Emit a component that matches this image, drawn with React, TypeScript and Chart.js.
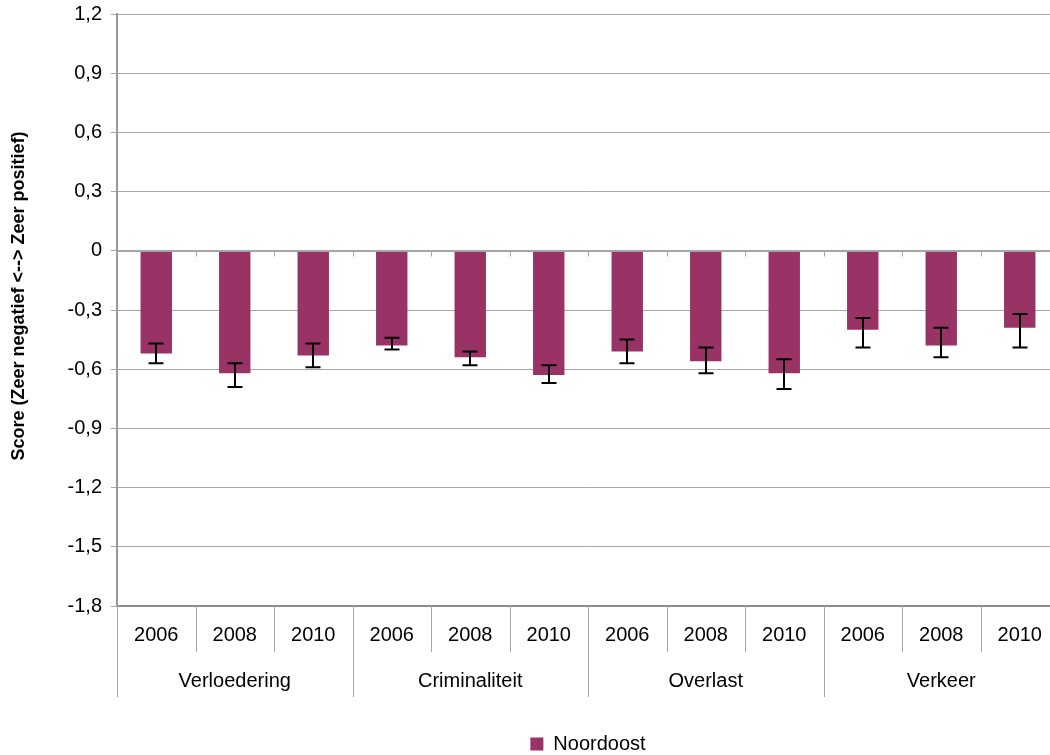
import React, { useEffect, useRef } from "react";
import { Chart, registerables } from "chart.js";

Chart.register(...registerables);

const groups = ["Verloedering", "Criminaliteit", "Overlast", "Verkeer"];
const years = ["2006", "2008", "2010"];
const seriesName = "Noordoost";
const values = [-0.52, -0.62, -0.53, -0.48, -0.54, -0.63, -0.51, -0.56, -0.62, -0.40, -0.48, -0.39];
const errorHigh = [-0.47, -0.57, -0.47, -0.44, -0.51, -0.58, -0.45, -0.49, -0.55, -0.34, -0.39, -0.32];
const errorLow = [-0.57, -0.69, -0.59, -0.50, -0.58, -0.67, -0.57, -0.62, -0.70, -0.49, -0.54, -0.49];
const yTitle = "Score (Zeer negatief <--> Zeer positief)";
const yMin = -1.8;
const yMax = 1.2;
const yStep = 0.3;

const FONT = "'Liberation Sans', Arial, sans-serif";
const GRID = "#a6a6a6";

const labels: string[] = [];
groups.forEach(() => years.forEach((y) => labels.push(y)));

const extrasPlugin = {
  id: "extras",
  afterDatasetsDraw(chart: any) {
    const { ctx, chartArea } = chart;
    const meta = chart.getDatasetMeta(0);
    const ys = chart.scales.y;
    ctx.save();
    // zero axis line drawn over the bars
    const y0 = Math.round(ys.getPixelForValue(0)) + 0.5;
    ctx.strokeStyle = GRID;
    ctx.lineWidth = 1;
    ctx.beginPath();
    ctx.moveTo(chartArea.left, y0);
    ctx.lineTo(chartArea.right, y0);
    ctx.stroke();
    ctx.strokeStyle = "#000";
    ctx.lineWidth = 2;
    meta.data.forEach((bar: any, i: number) => {
      const x = Math.round(bar.x);
      const y1 = ys.getPixelForValue(errorHigh[i]);
      const y2 = ys.getPixelForValue(errorLow[i]);
      ctx.beginPath();
      ctx.moveTo(x, y1);
      ctx.lineTo(x, y2);
      ctx.moveTo(x - 7.5, y1);
      ctx.lineTo(x + 7.5, y1);
      ctx.moveTo(x - 7.5, y2);
      ctx.lineTo(x + 7.5, y2);
      ctx.stroke();
    });
    ctx.restore();
  },
  afterDraw(chart: any) {
    const { ctx, chartArea } = chart;
    const ys = chart.scales.y;
    const n = labels.length;
    const cw = (chartArea.right - chartArea.left) / n;
    const bottom = chartArea.bottom;
    const y0 = Math.round(ys.getPixelForValue(0)) + 0.5;
    ctx.save();
    ctx.strokeStyle = GRID;
    ctx.lineWidth = 1;
    for (let i = 0; i < n; i++) {
      const x = Math.round(chartArea.left + i * cw) + 0.5;
      ctx.beginPath();
      ctx.moveTo(x, bottom);
      ctx.lineTo(x, i % years.length === 0 ? bottom + 91 : bottom + 46);
      ctx.stroke();
      if (i > 0) {
        ctx.beginPath();
        ctx.moveTo(x, y0);
        ctx.lineTo(x, y0 + 5);
        ctx.stroke();
      }
    }
    ctx.fillStyle = "#000";
    ctx.font = `20px ${FONT}`;
    ctx.textAlign = "center";
    ctx.textBaseline = "middle";
    groups.forEach((g, gi) => {
      const cx = chartArea.left + (gi * years.length + years.length / 2) * cw;
      ctx.fillText(g, cx, bottom + 75);
    });
    ctx.translate(19, 296);
    ctx.rotate(-Math.PI / 2);
    ctx.font = `bold 18px ${FONT}`;
    ctx.fillText(yTitle, 0, 0);
    ctx.restore();
  },
};

export default function App() {
  const ref = useRef<HTMLCanvasElement | null>(null);
  useEffect(() => {
    if (!ref.current) return;
    Chart.defaults.font.family = FONT;
    const chart = new Chart(ref.current, {
      type: "bar",
      data: {
        labels,
        datasets: [
          {
            label: seriesName,
            data: values,
            backgroundColor: "#993366",
            borderWidth: 0,
            barPercentage: 0.4,
            categoryPercentage: 1,
          },
        ],
      },
      options: {
        animation: false,
        responsive: false,
        devicePixelRatio: 1,
        layout: { padding: { left: 0, right: 1, top: 14, bottom: 0 } },
        plugins: {
          legend: {
            display: true,
            position: "bottom",
            fullSize: false,
            labels: {
              boxWidth: 13,
              boxHeight: 13,
              padding: 10,
              color: "#000",
              font: { size: 20, family: FONT },
            },
          },
          tooltip: { enabled: false },
        },
        scales: {
          x: {
            type: "category",
            offset: true,
            grid: { display: false, drawTicks: false },
            border: { display: true, color: "#8c8c8c", width: 2 },
            ticks: {
              color: "#000",
              font: { size: 20, family: FONT },
              padding: 17,
              maxRotation: 0,
              autoSkip: false,
            },
            afterFit: (s: any) => {
              s.height = 118;
              s.paddingLeft = 0;
              s.paddingRight = 0;
            },
          },
          y: {
            min: yMin,
            max: yMax,
            grid: {
              color: GRID,
              lineWidth: 1,
              drawTicks: true,
              tickLength: 6,
              tickColor: GRID,
            },
            border: { display: true, color: "#999999", width: 2 },
            ticks: {
              stepSize: yStep,
              color: "#000",
              font: { size: 20, family: FONT },
              padding: 9,
              callback: (v: any) => {
                const n = Number(v);
                if (Math.abs(n) < 1e-9) return "0";
                return n.toFixed(1).replace(".", ",");
              },
            },
            afterFit: (s: any) => {
              s.width = 117;
              s.paddingTop = 0;
              s.paddingBottom = 0;
            },
          },
        },
      },
      plugins: [extrasPlugin],
    });
    return () => chart.destroy();
  }, []);
  return (
    <div
      style={{
        position: "fixed",
        left: 0,
        top: 0,
        width: 1050,
        height: 755,
        overflow: "hidden",
        background: "#fff",
      }}
    >
      <canvas ref={ref} width={1060} height={764} style={{ display: "block", width: 1060, height: 764 }} />
    </div>
  );
}
